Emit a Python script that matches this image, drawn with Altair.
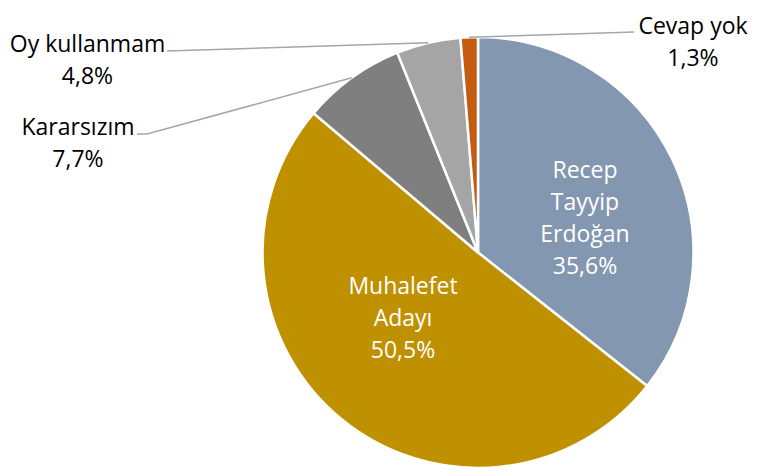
import altair as alt
import numpy as np
import pandas as pd

# ---- data ----
categories = ["Recep Tayyip Erdoğan", "Muhalefet Adayı", "Kararsızım", "Oy kullanmam", "Cevap yok"]
values = [35.6, 50.5, 7.7, 4.8, 1.3]
colors = ["#8497B0", "#BF9000", "#7F7F7F", "#A5A5A5", "#C55A11"]
inside = [True, True, False, False, False]

# ---- layout ----
W, H = 745, 461
CX, CY, R = 470, 244.5, 215.5
FONT = "Open Sans"
FS = 23
LH = 32
# label anchor (center x, first-line baseline y) in pixel space
label_x = [577, 395, 70, 79.5, 685]
label_y = [170, 286, 127, 43.5, 26]
# label-side end of leader lines (None for inside labels)
leader_ends = [None, None, [(129, 126), (139, 126)], [(159, 43)], [(626, 24)]]

total = sum(values)
frac = np.array(values) / total
cum_end = np.cumsum(frac) * 2 * np.pi
cum_start = cum_end - frac * 2 * np.pi
mid = (cum_start + cum_end) / 2

pie_df = pd.DataFrame({"cat": categories, "value": values, "idx": range(len(values))})

lab_text, lab_color = [], []
for c, v, ins in zip(categories, values, inside):
    pct = f"{v:.1f}".replace(".", ",") + "%"
    name = c.replace(" ", "\n") if ins else c
    lab_text.append(name + "\n" + pct)
    lab_color.append("#FFFFFF" if ins else "#000000")
label_df = pd.DataFrame({"text": lab_text, "lx": label_x, "ly": label_y, "tcolor": lab_color})

rows = []
for i, ends in enumerate(leader_ends):
    if ends is None:
        continue
    pts = list(ends) + [(CX + R * np.sin(mid[i]), CY - R * np.cos(mid[i]))]
    for k, (px, py) in enumerate(pts):
        rows.append({"cat": categories[i], "k": k, "px": px, "py": py})
leader_df = pd.DataFrame(rows)

pie = alt.Chart(pie_df).mark_arc(outerRadius=R, stroke="white", strokeWidth=2.5).encode(
    theta=alt.Theta("value:Q", stack=True),
    order=alt.Order("idx:Q", sort="ascending"),
    color=alt.Color("cat:N", scale=alt.Scale(domain=categories, range=colors), legend=None),
    x=alt.value(CX),
    y=alt.value(CY),
)

leaders = alt.Chart(leader_df).mark_line(color="#A6A6A6", strokeWidth=1.5).encode(
    x=alt.X("px:Q", scale=None, axis=None),
    y=alt.Y("py:Q", scale=None, axis=None),
    detail="cat:N",
    order="k:Q",
)

labels = alt.Chart(label_df).mark_text(
    font=FONT, fontSize=FS, lineBreak="\n", lineHeight=LH, align="center", baseline="alphabetic"
).encode(
    x=alt.X("lx:Q", scale=None, axis=None),
    y=alt.Y("ly:Q", scale=None, axis=None),
    text="text:N",
    color=alt.Color("tcolor:N", scale=None),
)

chart = alt.layer(pie, leaders, labels).properties(
    width=W, height=H, autosize="none", padding=0
).configure_view(stroke=None)

chart.save("out.html", embed_options={"renderer": "svg", "actions": False})
